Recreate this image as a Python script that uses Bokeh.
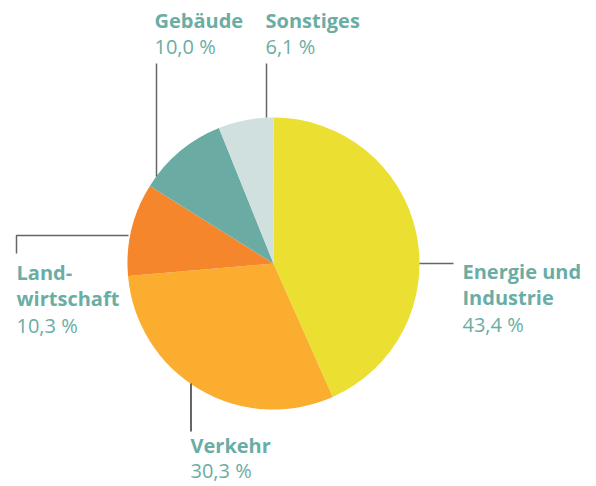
import math
from bokeh.plotting import figure
from bokeh.models import Range1d, ColumnDataSource
from bokeh.core.properties import value
from bokeh.embed import file_html
from bokeh.resources import INLINE

# ---- data ----
categories = ["Energie und Industrie", "Verkehr", "Landwirtschaft", "Gebäude", "Sonstiges"]
shares = [43.4, 30.3, 10.3, 10.0, 6.1]
share_labels = ["43,4 %", "30,3 %", "10,3 %", "10,0 %", "6,1 %"]
name_lines = [["Energie und", "Industrie"], ["Verkehr"], ["Land-", "wirtschaft"], ["Gebäude"], ["Sonstiges"]]
colors = ["#EBDF31", "#FAAD2E", "#F5862C", "#6AACA3", "#CFE0DF"]

W, H = 596, 486
# coordinate system: x = image px, y = H - image px
def Y(py):
    return H - py

cx, cy, r = 273, Y(263), 146

p = figure(width=W, height=H, x_range=Range1d(0, W), y_range=Range1d(0, H),
           output_backend="svg", toolbar_location=None, min_border=0)
p.axis.visible = False
p.grid.visible = False
p.outline_line_color = None
p.background_fill_color = "white"

# wedges, clockwise from top
total = sum(shares)
starts, ends = [], []
a = math.pi / 2
for s in shares:
    b = a - s / total * 2 * math.pi
    starts.append(b)
    ends.append(a)
    a = b
src = ColumnDataSource(dict(start=starts, end=ends, color=colors))
p.wedge(x=cx, y=cy, radius=r, start_angle="start", end_angle="end", fill_color="color",
        line_color=None, source=src)

# leader lines (image px)
lc = "#666666"
p.line([156, 156], [Y(63), Y(176)], line_color=lc, line_width=1.5)          # Gebäude
p.line([266, 266], [Y(63), Y(117)], line_color=lc, line_width=1.5)          # Sonstiges
p.line([16, 16, 128], [Y(253), Y(235), Y(235)], line_color=lc, line_width=1.5)  # Landwirtschaft
p.line([419, 453], [Y(263), Y(263)], line_color=lc, line_width=1.5)         # Energie
p.line([190.5, 190.5], [Y(383), Y(431)], line_color="#333333", line_width=1.5)  # Verkehr

# labels: (x, baseline of first line) in image px (with font offset correction)
off = 7.5
label_pos = [(462, 278), (190, 452), (16, 279), (154, 27), (265, 27)]
line_h = [26.5, 25.5, 26.5, 26.5, 26.5]
tc = "#6AADA5"
fs = "20px"
for names, pct, (lx, ly), lh in zip(name_lines, share_labels, label_pos, line_h):
    ly = ly - off
    for i, nm in enumerate(names):
        p.text(x=[lx], y=[Y(ly + i * lh)], text=[nm], text_font=value("Open Sans"),
               text_font_style="bold", text_font_size=fs, text_color=tc,
               text_baseline="alphabetic", text_align="left")
    p.text(x=[lx], y=[Y(ly + len(names) * lh)], text=[pct], text_font=value("Open Sans"),
           text_font_style="normal", text_font_size=fs, text_color=tc,
           text_baseline="alphabetic", text_align="left")

open("out.html", "w").write(file_html(p, INLINE))
